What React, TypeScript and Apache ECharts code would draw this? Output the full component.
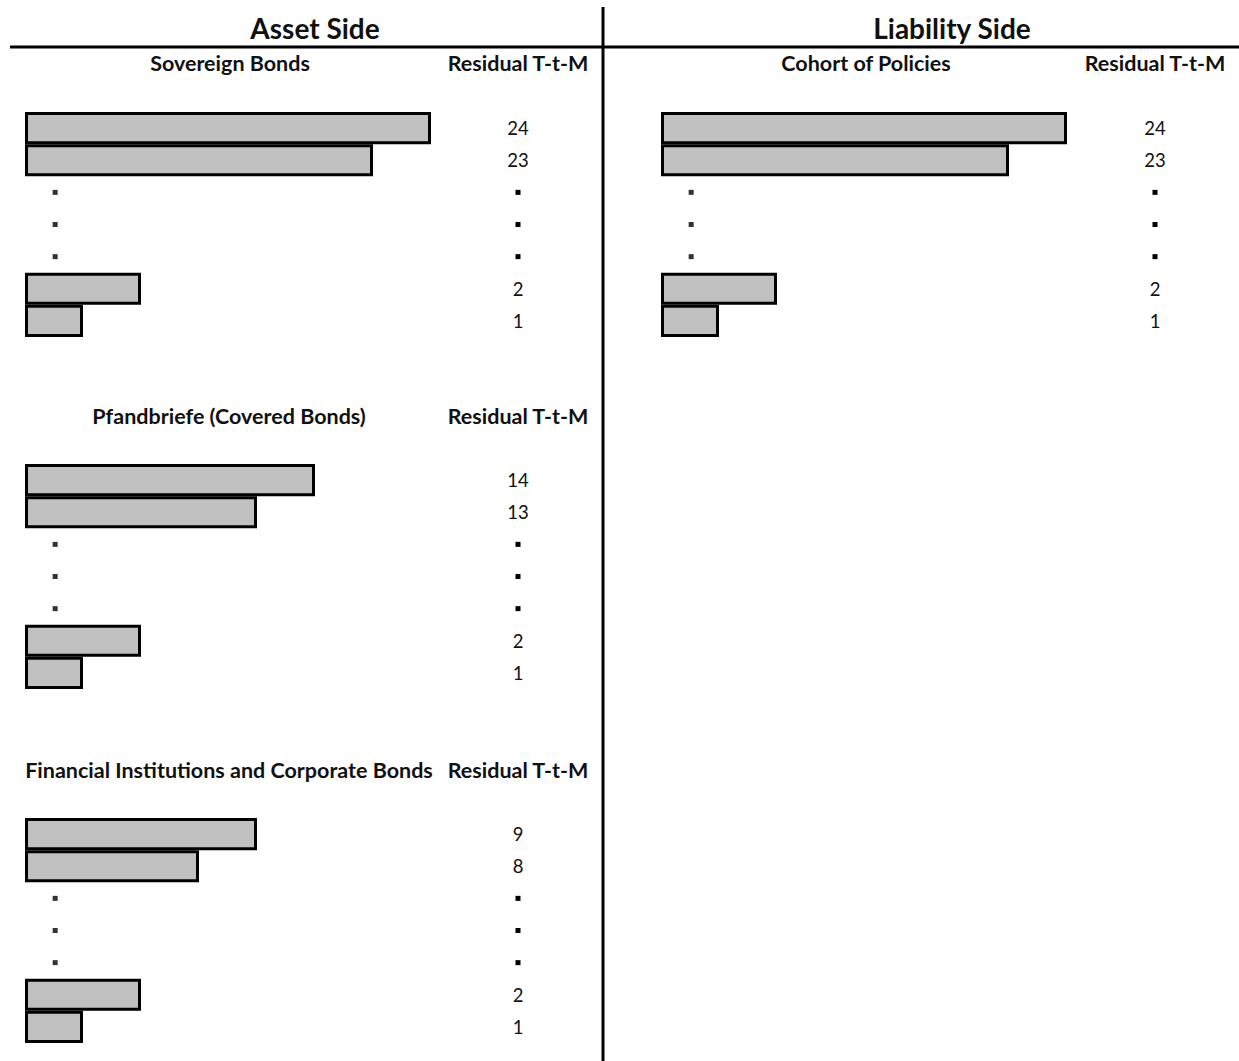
import React, { useEffect, useRef } from "react";
import * as echarts from "echarts";

// ---- data ----
const sideTitles = ["Asset Side", "Liability Side"];
const ttmHeader = "Residual T-t-M";

const sovereignName = "Sovereign Bonds";
const sovereignTTM = ["24", "23", ".", ".", ".", "2", "1"];
const sovereignValues = [7, 6, null, null, null, 2, 1];

const pfandName = "Pfandbriefe (Covered Bonds)";
const pfandTTM = ["14", "13", ".", ".", ".", "2", "1"];
const pfandValues = [5, 4, null, null, null, 2, 1];

const corpName = "Financial Institutions and Corporate Bonds";
const corpTTM = ["9", "8", ".", ".", ".", "2", "1"];
const corpValues = [4, 3, null, null, null, 2, 1];

const policyName = "Cohort of Policies";
const policyTTM = ["24", "23", ".", ".", ".", "2", "1"];
const policyValues = [7, 6, null, null, null, 2, 1];

const FONT = "Lato";

export default function App() {
  const ref = useRef<HTMLDivElement>(null);

  useEffect(() => {
    if (!ref.current) return;
    const chart = echarts.init(ref.current, null, { renderer: "svg" });

    const panels = [
      { name: sovereignName, ttm: sovereignTTM, vals: sovereignValues, left: 25, top: 112, headY: 63, nameX: 230, ttmX: 518 },
      { name: pfandName, ttm: pfandTTM, vals: pfandValues, left: 25, top: 464, headY: 416, nameX: 229, ttmX: 518 },
      { name: corpName, ttm: corpTTM, vals: corpValues, left: 25, top: 818, headY: 770, nameX: 229, ttmX: 518 },
      { name: policyName, ttm: policyTTM, vals: policyValues, left: 661, top: 112, headY: 63, nameX: 866, ttmX: 1155 },
    ];

    const gridW = 406;
    const gridH = 225;

    const grid: any[] = [];
    const xAxis: any[] = [];
    const yAxis: any[] = [];
    const series: any[] = [];
    const graphic: any[] = [];

    panels.forEach((p, i) => {
      grid.push({ left: p.left, top: p.top, width: gridW, height: gridH, containLabel: false });
      xAxis.push({ type: "value", gridIndex: i, min: 0, max: 7, show: false });
      yAxis.push({
        type: "category",
        gridIndex: i,
        inverse: true,
        data: p.ttm,
        position: "right",
        axisLine: { show: false },
        axisTick: { show: false },
        splitLine: { show: false },
        axisLabel: {
          align: "center",
          margin: p.ttmX - (p.left + gridW),
          fontSize: 18.5,
          fontFamily: FONT,
          color: "#111",
          formatter: (v: string) => (v === "." ? "{d|}" : v),
          rich: { d: { width: 5, height: 5, backgroundColor: "#000" } },
        },
      });
      series.push({
        type: "bar",
        xAxisIndex: i,
        yAxisIndex: i,
        data: p.vals,
        barCategoryGap: "0%",
        silent: true,
        itemStyle: { color: "#c0c0c0", borderColor: "#000", borderWidth: 3 },
      });
      const dots = p.ttm
        .map((t, idx) => (t === "." ? [0.52, idx] : null))
        .filter((d) => d !== null);
      series.push({
        type: "scatter",
        xAxisIndex: i,
        yAxisIndex: i,
        data: dots,
        symbol: "rect",
        symbolSize: 5,
        silent: true,
        itemStyle: { color: "#000" },
      });
      graphic.push({
        type: "text",
        x: p.nameX,
        y: p.headY,
        style: {
          text: p.name,
          fontFamily: FONT,
          fontWeight: "bold",
          fontSize: 21.5,
          fill: "#111",
          textAlign: "center",
          textVerticalAlign: "middle",
        },
      });
      graphic.push({
        type: "text",
        x: p.ttmX,
        y: p.headY,
        style: {
          text: ttmHeader,
          fontFamily: FONT,
          fontWeight: "bold",
          fontSize: 21.5,
          fill: "#111",
          textAlign: "center",
          textVerticalAlign: "middle",
        },
      });
    });

    graphic.push(
      {
        type: "text",
        x: 315,
        y: 28,
        style: {
          text: sideTitles[0],
          fontFamily: FONT,
          fontWeight: "bold",
          fontSize: 28,
          fill: "#111",
          textAlign: "center",
          textVerticalAlign: "middle",
        },
      },
      {
        type: "text",
        x: 952,
        y: 28,
        style: {
          text: sideTitles[1],
          fontFamily: FONT,
          fontWeight: "bold",
          fontSize: 28,
          fill: "#111",
          textAlign: "center",
          textVerticalAlign: "middle",
        },
      },
      {
        type: "line",
        shape: { x1: 10, y1: 47, x2: 1239, y2: 47 },
        style: { stroke: "#000", lineWidth: 3 },
      },
      {
        type: "line",
        shape: { x1: 603, y1: 7, x2: 603, y2: 1061 },
        style: { stroke: "#000", lineWidth: 3 },
      }
    );

    chart.setOption({
      animation: false,
      backgroundColor: "#fff",
      grid,
      xAxis,
      yAxis,
      series,
      graphic,
    });

    return () => chart.dispose();
  }, []);

  return (
    <div
      ref={ref}
      style={{ position: "absolute", left: 0, top: 0, width: 1239, height: 1061 }}
    />
  );
}
